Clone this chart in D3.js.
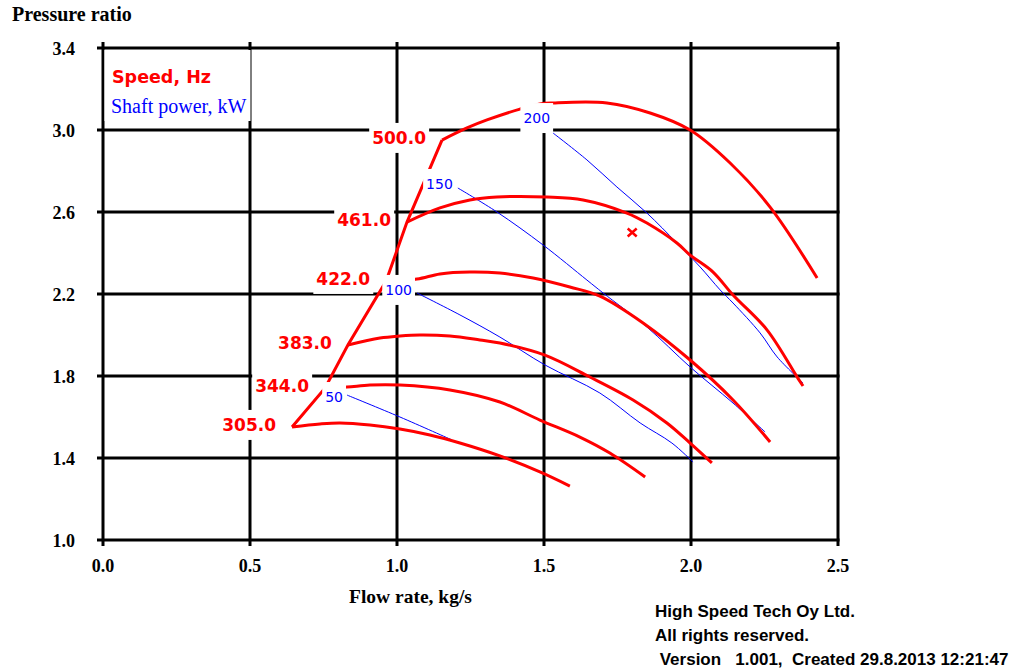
<!DOCTYPE html>
<html>
<head>
<meta charset="utf-8">
<script src="https://cdn.jsdelivr.net/npm/d3@7"></script>
<style>
  body { margin: 0; background: #fff; }
</style>
</head>
<body>
<script>
// chart values (flow rate kg/s, pressure ratio)
var xTicks = [0.0, 0.5, 1.0, 1.5, 2.0, 2.5];
var yTicks = [1.0, 1.4, 1.8, 2.2, 2.6, 3.0, 3.4];

var speedNames = ["305.0", "344.0", "383.0", "422.0", "461.0", "500.0"];
var speed305 = [[0.643,1.551],[0.738,1.566],[0.806,1.571],[0.908,1.561],[1.010,1.541],[1.112,1.512],[1.214,1.473],[1.350,1.410],[1.486,1.332],[1.588,1.263]];
var speed344 = [[0.755,1.741],[0.830,1.746],[0.908,1.756],[1.010,1.756],[1.180,1.732],[1.350,1.673],[1.486,1.585],[1.622,1.502],[1.724,1.424],[1.844,1.307]];
var speed383 = [[0.833,1.951],[0.942,1.985],[1.010,1.995],[1.078,2.000],[1.180,1.995],[1.282,1.976],[1.350,1.961],[1.503,1.902],[1.656,1.795],[1.803,1.683],[1.918,1.571],[1.997,1.473],[2.071,1.376]];
var speed422 = [[0.963,2.263],[1.068,2.273],[1.146,2.298],[1.248,2.307],[1.350,2.302],[1.463,2.278],[1.588,2.234],[1.690,2.190],[1.837,2.059],[1.997,1.878],[2.143,1.683],[2.269,1.478]];
var speed461 = [[1.034,2.551],[1.146,2.620],[1.248,2.659],[1.340,2.673],[1.510,2.673],[1.633,2.659],[1.782,2.595],[1.850,2.546],[1.952,2.449],[1.997,2.390],[2.075,2.307],[2.143,2.195],[2.259,2.024],[2.361,1.795],[2.381,1.751]];
var speed500 = [[1.153,2.951],[1.238,3.010],[1.306,3.049],[1.418,3.102],[1.486,3.127],[1.531,3.132],[1.714,3.132],[1.861,3.083],[1.997,3.000],[2.133,2.839],[2.269,2.624],[2.429,2.278]];
var speedLines = [speed305, speed344, speed383, speed422, speed461, speed500];

var powerNames = ["50", "100", "150", "200"];
var power50 = [[0.830,1.707],[1.010,1.600],[1.187,1.488]];
var power100 = [[1.068,2.205],[1.214,2.098],[1.350,1.990],[1.503,1.854],[1.690,1.717],[1.827,1.571],[1.935,1.473],[2.007,1.380]];
var power150 = [[1.207,2.717],[1.340,2.600],[1.497,2.439],[1.646,2.268],[1.701,2.205],[1.850,2.039],[1.997,1.844],[2.143,1.668],[2.252,1.527]];
var power200 = [[1.531,2.985],[1.646,2.854],[1.748,2.722],[1.850,2.595],[1.952,2.449],[2.031,2.332],[2.099,2.220],[2.143,2.156],[2.235,2.010],[2.293,1.893],[2.381,1.766]];
var powerLines = [power50, power100, power150, power200];

var operatingPoint = [1.80, 2.50];

// layout
var width = 1017;
var height = 669;
var plotLeft = 103, plotRight = 838, plotTop = 48, plotBottom = 540;
var tickOut = 6;
var powerLabelOffsets = [[-4, 7], [-5, 2], [-5, 1], [-3, -10]];

var serif = "'Liberation Serif', 'Times New Roman', serif";
var sans = "'DejaVu Sans', Verdana, sans-serif";

var svg = d3.select("body")
    .append("svg")
    .attr("width", width)
    .attr("height", height);

var x = d3.scaleLinear().domain([0, 2.5]).range([plotLeft, plotRight]);
var y = d3.scaleLinear().domain([1.0, 3.4]).range([plotBottom, plotTop]);
var fmt = d3.format(".1f");

// grid lines (they also act as the axes)
var grid = svg.append("g").attr("stroke", "black").attr("stroke-width", 3);

grid.selectAll("line.v")
    .data(xTicks)
    .enter().append("line")
    .attr("class", "v")
    .attr("x1", function(d) { return x(d); })
    .attr("x2", function(d) { return x(d); })
    .attr("y1", plotTop - tickOut)
    .attr("y2", plotBottom + tickOut);

grid.selectAll("line.h")
    .data(yTicks)
    .enter().append("line")
    .attr("class", "h")
    .attr("x1", plotLeft - tickOut)
    .attr("x2", plotRight + 1.5)
    .attr("y1", function(d) { return y(d); })
    .attr("y2", function(d) { return y(d); });

// tick labels
svg.selectAll("text.ytick")
    .data(yTicks)
    .enter().append("text")
    .attr("class", "ytick")
    .attr("x", 75)
    .attr("y", function(d) { return y(d) + 7; })
    .attr("text-anchor", "end")
    .attr("font-family", serif)
    .attr("font-weight", "bold")
    .attr("font-size", "18px")
    .text(fmt);

svg.selectAll("text.xtick")
    .data(xTicks)
    .enter().append("text")
    .attr("class", "xtick")
    .attr("x", function(d) { return x(d); })
    .attr("y", 572)
    .attr("text-anchor", "middle")
    .attr("font-family", serif)
    .attr("font-weight", "bold")
    .attr("font-size", "18px")
    .text(fmt);

// axis titles
svg.append("text")
    .attr("x", 12).attr("y", 21)
    .attr("font-family", serif).attr("font-weight", "bold").attr("font-size", "20px")
    .text("Pressure ratio");

svg.append("text")
    .attr("x", 349).attr("y", 603)
    .attr("font-family", serif).attr("font-weight", "bold").attr("font-size", "19.5px")
    .text("Flow rate, kg/s");

var line = d3.line()
    .x(function(d) { return x(d[0]); })
    .y(function(d) { return y(d[1]); })
    .curve(d3.curveCatmullRom.alpha(0.5));

// shaft power lines (blue, thin)
svg.append("g").selectAll("path")
    .data(powerLines)
    .enter().append("path")
    .attr("d", line)
    .attr("fill", "none")
    .attr("stroke", "#0000ff")
    .attr("stroke-width", 1);

// speed lines (red, thick)
svg.append("g").selectAll("path")
    .data(speedLines)
    .enter().append("path")
    .attr("d", line)
    .attr("fill", "none")
    .attr("stroke", "#ff0000")
    .attr("stroke-width", 3);

// surge line through the first point of each speed line
var surge = speedLines.map(function(s) { return s[0]; });
svg.append("path")
    .attr("d", d3.line()
        .x(function(d) { return x(d[0]); })
        .y(function(d) { return y(d[1]); })(surge))
    .attr("fill", "none")
    .attr("stroke", "#ff0000")
    .attr("stroke-width", 3);

// operating point marker
var ox = x(operatingPoint[0]), oy = y(operatingPoint[1]);
svg.append("path")
    .attr("d", "M" + (ox - 4.5) + "," + (oy - 4) + "L" + (ox + 4.5) + "," + (oy + 4) +
               "M" + (ox + 4.5) + "," + (oy - 4) + "L" + (ox - 4.5) + "," + (oy + 4))
    .attr("stroke", "#ff0000")
    .attr("stroke-width", 2.5);

// label with white box behind it
function boxedLabel(px, py, txt, color, family, size, weight, boxH) {
  var g = svg.append("g");
  var t = g.append("text")
      .attr("x", px).attr("y", py)
      .attr("text-anchor", "end")
      .attr("font-family", family)
      .attr("font-size", size)
      .attr("font-weight", weight)
      .attr("fill", color)
      .text(txt);
  var bb = t.node().getBBox();
  var cy = py - parseFloat(size) * 0.36;
  g.insert("rect", "text")
      .attr("x", bb.x - 3)
      .attr("y", cy - boxH / 2)
      .attr("width", bb.width + 6)
      .attr("height", boxH)
      .attr("fill", "white");
}

powerLines.forEach(function(p, i) {
  var o = powerLabelOffsets[i];
  boxedLabel(x(p[0][0]) + o[0], y(p[0][1]) + o[1], powerNames[i], "#0000ff", sans, "14px", "normal", 30);
});

speedLines.forEach(function(s, i) {
  boxedLabel(x(s[0][0]) - 16, y(s[0][1]) + 4, speedNames[i], "#ff0000", sans, "17px", "bold", 30);
});

// legend
svg.append("rect")
    .attr("x", plotLeft + 1.5).attr("y", 50)
    .attr("width", x(0.5) + 0.5 - plotLeft - 1.5).attr("height", 71)
    .attr("fill", "white");

svg.append("text")
    .attr("x", 112).attr("y", 83)
    .attr("font-family", sans).attr("font-weight", "bold").attr("font-size", "17.5px")
    .attr("fill", "#ff0000")
    .text("Speed, Hz");

svg.append("text")
    .attr("x", 111).attr("y", 113)
    .attr("font-family", serif).attr("font-size", "20px")
    .attr("fill", "#0000ff")
    .text("Shaft power, kW");

// footer
var footer = ["High Speed Tech Oy Ltd.", "All rights reserved.", " Version   1.001,  Created 29.8.2013 12:21:47"];
svg.selectAll("text.footer")
    .data(footer)
    .enter().append("text")
    .attr("class", "footer")
    .attr("x", 655)
    .attr("y", function(d, i) { return 617 + i * 24; })
    .attr("font-family", "'Liberation Sans', Arial, sans-serif")
    .attr("font-weight", "bold")
    .attr("font-size", "17px")
    .style("white-space", "pre")
    .text(function(d) { return d; });
</script>
</body>
</html>
